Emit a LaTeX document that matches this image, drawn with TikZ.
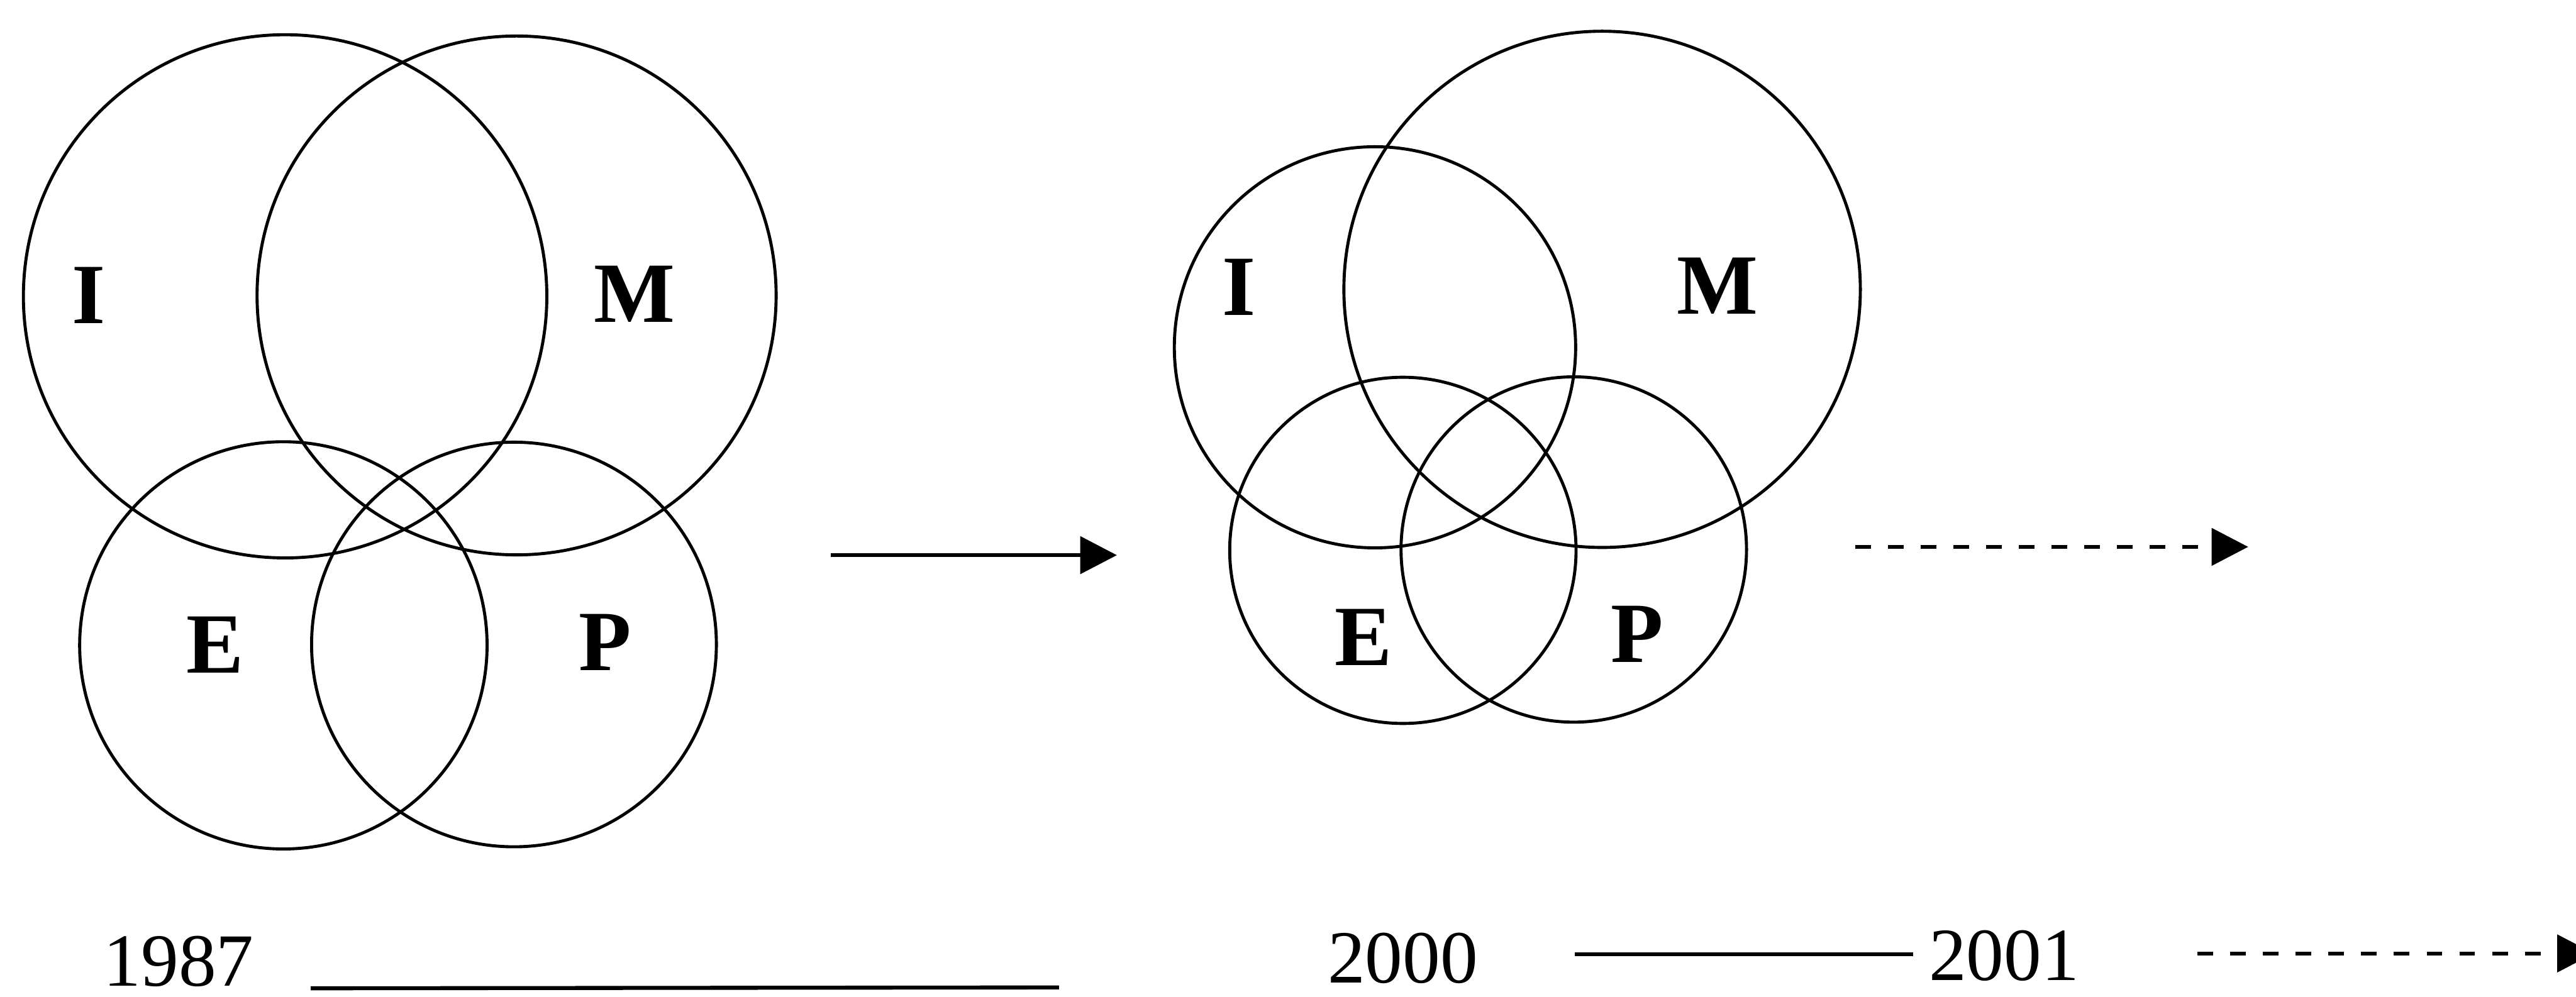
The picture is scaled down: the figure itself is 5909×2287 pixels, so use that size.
\documentclass[tikz,border=0pt]{standalone}
\usepackage{fontspec}
\setmainfont{Liberation Serif}
\usetikzlibrary{arrows.meta}
\begin{document}
\begin{tikzpicture}[x=0.01cm,y=-0.01cm,
  ring/.style={draw,circle,line width=2pt,inner sep=0pt},
  lbl/.style={font=\fontsize{56}{60}\selectfont\bfseries,inner sep=0pt},
  yr/.style={font=\fontsize{49}{54}\selectfont,inner sep=0pt,anchor=base},
  conn/.style={line width=2.6pt},
  head/.style={-{Triangle[length=0.84cm,width=0.85cm]}},
  dsh/.style={dash pattern=on 0.36cm off 0.39cm}]
\useasboundingbox (0,0) rectangle (5909,2287);
% left group (1987)
\node[ring,minimum size=12.0cm] (I1) at (654,680) {};
\node[ring,minimum size=11.9cm] (M1) at (1185,678) {};
\node[ring,minimum size=9.34cm] (E1) at (650,1481) {};
\node[ring,minimum size=9.28cm] (P1) at (1179,1479) {};
\node[lbl] (tI1) at (203,678) {I};
\node[lbl] (tM1) at (1455,675) {M};
\node[lbl] (tE1) at (494,1480) {E};
\node[lbl] (tP1) at (1388,1474) {P};
% right group (2000)
\node[ring,minimum size=9.2cm] (I2) at (3154,797) {};
\node[ring,minimum size=11.84cm] (M2) at (3675,664) {};
\node[ring,minimum size=7.94cm] (E2) at (3218,1263) {};
\node[ring,minimum size=7.92cm] (P2) at (3610,1261) {};
\node[lbl] (tI2) at (2842,659) {I};
\node[lbl] (tM2) at (3940,656) {M};
\node[lbl] (tE2) at (3127,1462) {E};
\node[lbl] (tP2) at (3756,1455) {P};
% arrows
\coordinate (a1s) at (1906,1274);
\coordinate (a1e) at (2562,1274);
\draw[conn,head] (a1s) -- (a1e);
\coordinate (a2s) at (4256,1255);
\coordinate (a2e) at (5157,1255);
\draw[conn,head,dsh] (a2s) -- (a2e);
% timeline
\node[yr] (y87) at (410,2262) {1987};
\node[yr] (y00) at (3218,2256) {2000};
\node[yr] (y01) at (4597,2250) {2001};
\coordinate (l1s) at (713,2268);
\coordinate (l1e) at (2429,2266);
\draw[conn] (l1s) -- (l1e);
\coordinate (l2s) at (3612,2190);
\coordinate (l2e) at (4388,2190);
\draw[conn] (l2s) -- (l2e);
\coordinate (l3s) at (5041,2188);
\coordinate (l3e) at (5950,2188);
\draw[conn,head,dsh] (l3s) -- (l3e);
\end{tikzpicture}
\end{document}
